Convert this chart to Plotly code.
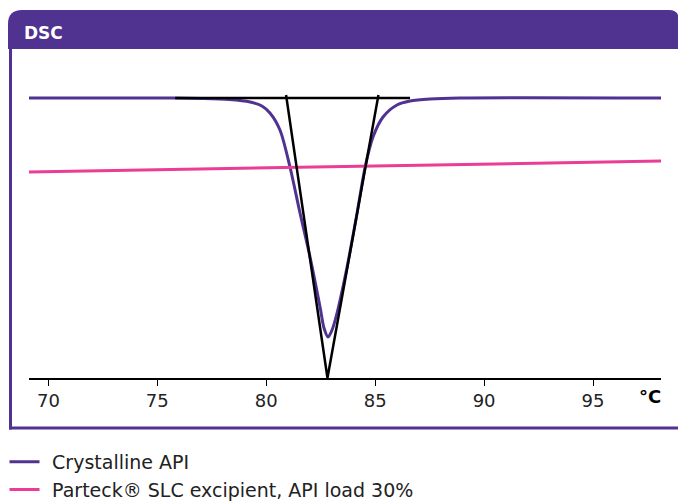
import plotly.graph_objects as go

# ---------------- data ----------------
temp_api = [69.11, 75.0, 77.0, 78.3, 79.26, 79.8, 80.17, 80.63, 81.09, 81.55, 82.01, 82.47,
            82.65, 82.84, 83.02, 83.25, 83.71, 84.17, 84.54, 84.90, 85.36, 86.00, 86.60,
            87.52, 88.9, 98.12]
heat_api = [0, 0, -0.005, -0.015, -0.04, -0.08, -0.15, -0.32, -0.69, -1.15, -1.59, -2.09,
            -2.30, -2.39, -2.32, -2.15, -1.69, -1.15, -0.69, -0.39, -0.19, -0.07, -0.03,
            -0.01, 0, 0]

temp_slc = [69.11, 98.12]
heat_slc = [-0.74, -0.63]

# onset construction (baseline + tangents)
temp_tan = [75.82, 86.6, None, 80.91, 82.81, 85.15]
heat_tan = [0, 0, None, 0.03, -2.8, 0.03]

tick_vals = [70, 75, 80, 85, 90, 95]
series_names = ["Crystalline API", "Parteck® SLC excipient, API load 30%"]

PURPLE = "#503291"
PINK = "#EB3C96"
FONT = "DejaVu Sans, Verdana, sans-serif"

W, H = 678, 501
L, R, T, B = 29, 661, 60, 378
XR = [69.11, 98.12]
YR = [-2.8, 0.38]


def px(x):
    return (x - L) / (R - L)


def py(y):
    return (B - y) / (B - T)


GAP = "\u2009\u2009"

fig = go.Figure()
fig.add_trace(go.Scatter(x=temp_api, y=heat_api, mode="lines", name=GAP + series_names[0],
                         line=dict(color=PURPLE, width=3, shape="spline", smoothing=0.8)))
fig.add_trace(go.Scatter(x=temp_slc, y=heat_slc, mode="lines", name=GAP + series_names[1],
                         line=dict(color=PINK, width=3)))
fig.add_trace(go.Scatter(x=temp_tan, y=heat_tan, mode="lines", showlegend=False,
                         line=dict(color="black", width=2.5), hoverinfo="skip"))

# header band with rounded top corners
r1, r2 = 14, 10
x0, x1, y0, y1 = 8, 679, 10, 49
path = (f"M {px(x0)},{py(y1)} L {px(x0)},{py(y0 + r1)} "
        f"Q {px(x0)},{py(y0)} {px(x0 + r1)},{py(y0)} "
        f"L {px(x1 - r2)},{py(y0)} Q {px(x1)},{py(y0)} {px(x1)},{py(y0 + r2)} "
        f"L {px(x1)},{py(y1)} Z")
shapes = [
    dict(type="path", xref="paper", yref="paper", path=path,
         fillcolor=PURPLE, line=dict(width=0), layer="above"),
    dict(type="line", xref="paper", yref="paper", x0=px(10.5), x1=px(10.5),
         y0=py(y1), y1=py(429.5), line=dict(color=PURPLE, width=3)),
    dict(type="line", xref="paper", yref="paper", x0=px(9), x1=px(680),
         y0=py(428), y1=py(428), line=dict(color=PURPLE, width=3)),
]

annotations = [
    dict(text="<b>DSC</b>", xref="paper", yref="paper", x=px(22), y=py(33),
         xanchor="left", yanchor="middle", showarrow=False,
         font=dict(family=FONT, size=17, color="white")),
    dict(text="<b>°C</b>", xref="paper", yref="paper", x=px(650), y=py(396),
         xanchor="center", yanchor="middle", showarrow=False,
         font=dict(family=FONT, size=18, color="black")),
]

fig.update_layout(
    width=W, height=H,
    margin=dict(l=L, r=W - R, t=T, b=H - B, autoexpand=False),
    paper_bgcolor="white", plot_bgcolor="white",
    font=dict(family=FONT, size=18, color="#222"),
    xaxis=dict(range=XR, showgrid=False, zeroline=False, showline=True,
               linecolor="black", linewidth=1.5, ticks="outside", ticklen=6,
               tickcolor="black", tickwidth=1.2, tickvals=tick_vals,
               tickfont=dict(family=FONT, size=18, color="#222"), fixedrange=True),
    yaxis=dict(range=YR, visible=False, fixedrange=True),
    shapes=shapes, annotations=annotations,
    showlegend=True,
    legend=dict(x=px(4.5), xanchor="left", y=py(443), yanchor="top",
                orientation="v", itemwidth=30,
                font=dict(family=FONT, size=19, color="#222"),
                bgcolor="rgba(0,0,0,0)"),
)

fig.write_html("out.html")
